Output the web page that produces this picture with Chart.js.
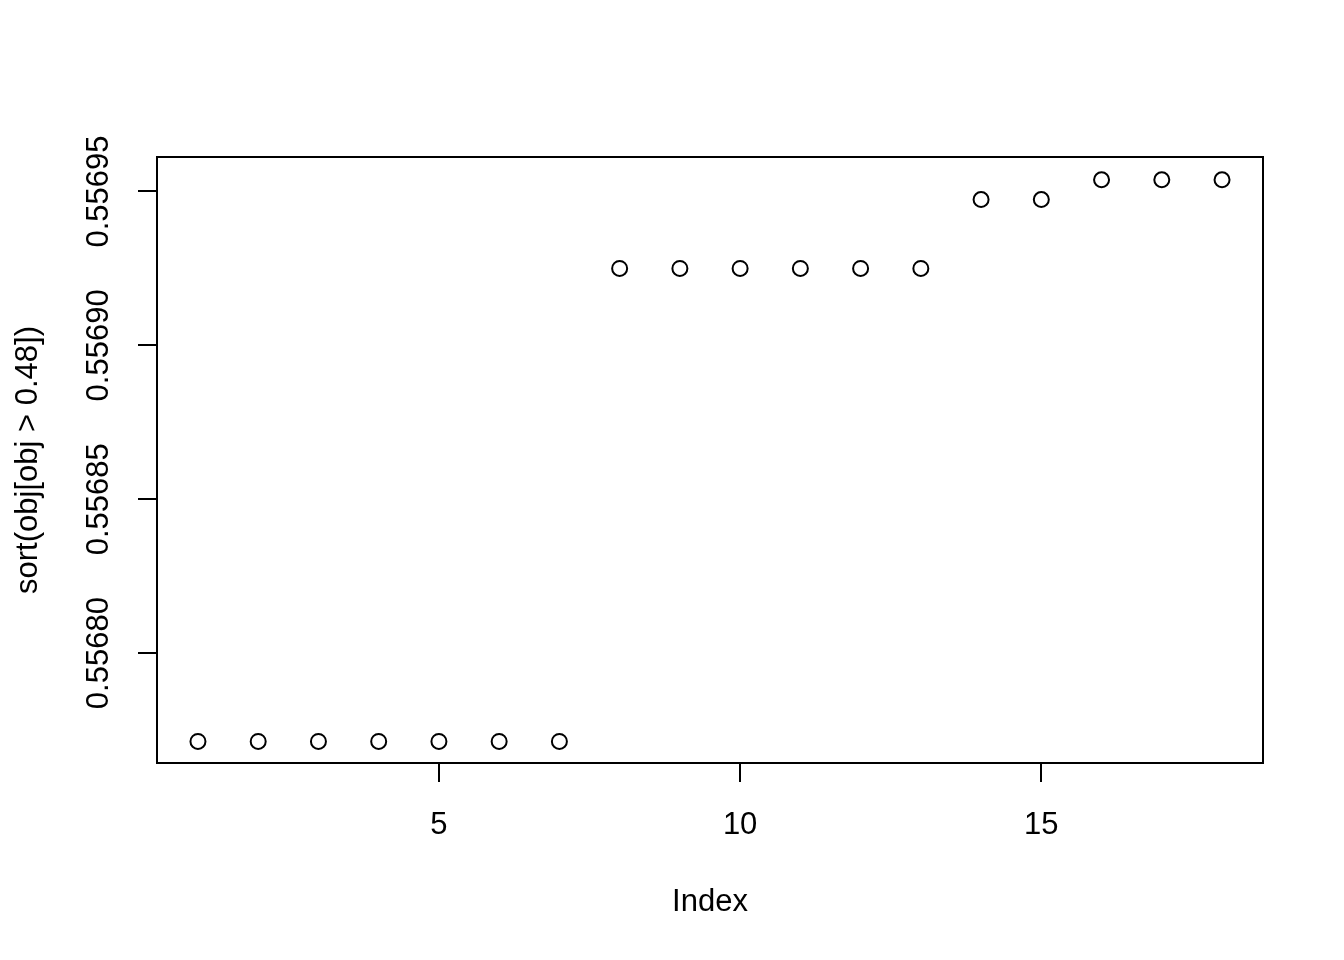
<!DOCTYPE html>
<html>
<head>
<meta charset="utf-8">
<script src="https://cdn.jsdelivr.net/npm/chart.js@4/dist/chart.umd.min.js"></script>
<style>
  html, body { margin: 0; padding: 0; background: #ffffff; }
  #wrap { width: 1344px; height: 960px; }
</style>
</head>
<body>
<div id="wrap"><canvas id="c" width="1344" height="960"></canvas></div>
<script>
// ---- data ----
const indices = [1, 2, 3, 4, 5, 6, 7, 8, 9, 10, 11, 12, 13, 14, 15, 16, 17, 18];
const values = [
  0.5567713, 0.5567713, 0.5567713, 0.5567713, 0.5567713, 0.5567713, 0.5567713,
  0.5569250, 0.5569250, 0.5569250, 0.5569250, 0.5569250, 0.5569250,
  0.5569474, 0.5569474,
  0.5569538, 0.5569538, 0.5569538
];
const xTicks = [5, 10, 15];
const yTicks = [0.55680, 0.55685, 0.55690, 0.55695];
const xTitle = 'Index';
const yTitle = 'sort(obj[obj > 0.48])';

// axis ranges (R style 4% extension)
const xRange = [0.32, 18.68];
const yRange = [0.5567643, 0.5569612];

const FONT = '"Liberation Sans", Arial, Helvetica, sans-serif';
const FS = 31;

const boxPlugin = {
  id: 'rbox',
  afterDatasetsDraw(chart) {
    const { ctx, chartArea: a } = chart;
    ctx.save();
    ctx.strokeStyle = '#000';
    ctx.lineWidth = 2;
    ctx.strokeRect(a.left, a.top, a.right - a.left, a.bottom - a.top);
    ctx.restore();
  }
};

new Chart(document.getElementById('c'), {
  type: 'scatter',
  data: {
    datasets: [{
      data: indices.map((x, i) => ({ x: x, y: values[i] })),
      pointStyle: 'circle',
      pointRadius: 7.5,
      pointHoverRadius: 7.5,
      borderColor: '#000',
      backgroundColor: 'rgba(0,0,0,0)',
      borderWidth: 2,
      showLine: false
    }]
  },
  options: {
    responsive: false,
    animation: false,
    events: [],
    layout: { padding: { left: 0, top: 157, right: 81, bottom: 0 } },
    plugins: { legend: { display: false }, tooltip: { enabled: false } },
    scales: {
      x: {
        type: 'linear',
        min: xRange[0],
        max: xRange[1],
        afterFit(s) { s.height = 197; },
        afterBuildTicks(s) { s.ticks = xTicks.map(v => ({ value: v })); },
        grid: { display: true, drawOnChartArea: false, drawTicks: true, tickLength: 19, color: '#000', lineWidth: 2 },
        border: { display: true, color: '#000', width: 2 },
        ticks: {
          autoSkip: false,
          maxRotation: 0,
          minRotation: 0,
          padding: 28,
          color: '#000',
          font: { family: FONT, size: FS, lineHeight: 1 },
          callback: v => String(v)
        },
        title: {
          display: true,
          text: xTitle,
          color: '#000',
          font: { family: FONT, size: FS, lineHeight: 1 },
          padding: { top: 0, bottom: 42 }
        }
      },
      y: {
        type: 'linear',
        min: yRange[0],
        max: yRange[1],
        afterFit(s) { s.width = 157; },
        afterBuildTicks(s) { s.ticks = yTicks.map(v => ({ value: v })); },
        grid: { display: true, drawOnChartArea: false, drawTicks: true, tickLength: 19, color: '#000', lineWidth: 2 },
        border: { display: true, color: '#000', width: 2 },
        ticks: {
          autoSkip: false,
          minRotation: 90,
          maxRotation: 90,
          crossAlign: 'center',
          padding: -17,
          color: '#000',
          font: { family: FONT, size: FS, lineHeight: 1 },
          callback: v => Number(v).toFixed(5)
        },
        title: {
          display: true,
          text: yTitle,
          color: '#000',
          font: { family: FONT, size: FS, lineHeight: 1 },
          padding: { top: 13, bottom: 0 }
        }
      }
    }
  },
  plugins: [boxPlugin]
});
</script>
</body>
</html>
